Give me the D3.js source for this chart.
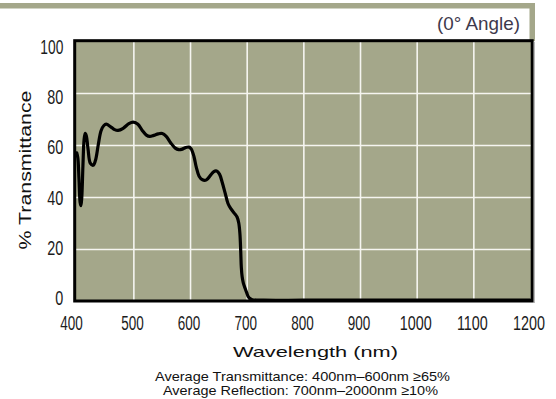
<!DOCTYPE html>
<html>
<head>
<meta charset="utf-8">
<script src="https://cdn.jsdelivr.net/npm/d3@7"></script>
<style>
  html, body { margin: 0; padding: 0; background: #ffffff; }
  svg { display: block; }
</style>
</head>
<body>
<svg id="chart" width="556" height="399"></svg>
<script>
// ---- data ----
const wavelengthNm = [400, 402, 404, 406, 407.5, 409, 411, 413, 415, 417, 420, 424, 429, 433, 438, 443, 448, 452, 460, 467, 473, 482, 492, 500, 508, 516, 523, 529, 536, 544, 551, 558, 566, 574, 580, 585, 592, 598, 602, 607, 611, 616, 622, 629, 636, 642, 647, 652, 657, 662, 667, 672, 678, 683, 686, 688, 689.5, 690.5, 692, 694, 697, 700, 703, 706, 710, 730, 800, 900, 1000, 1100, 1200];
const transmittancePct = [57, 55, 47, 38, 36.7, 40, 52, 62, 64.5, 63.5, 58.5, 53, 52.2, 54, 60, 65.5, 67.5, 68, 67, 65.9, 65.6, 66.4, 68.2, 68.8, 68, 65.5, 63.8, 63.3, 63.7, 64.3, 64.4, 63.3, 60.8, 58.8, 58.2, 58.3, 59, 59.2, 58.5, 55.5, 51.5, 48, 46.6, 46.6, 48.3, 49.8, 50, 48.8, 45.5, 41.5, 37.5, 35.5, 33.8, 32.3, 30, 26, 19, 13, 9.3, 7, 5, 3.2, 1.6, 0.9, 0.5, 0.3, 0.3, 0.3, 0.3, 0.3, 0.3];
const xTickValues = [400, 500, 600, 700, 800, 900, 1000, 1100, 1200];
const yTickValues = [0, 20, 40, 60, 80, 100];
const titleText = "(0° Angle)";
const xAxisTitle = "Wavelength (nm)";
const yAxisTitle = "% Transmittance";
const footnotes = ["Average Transmittance: 400nm–600nm ≥65%", "Average Reflection: 700nm–2000nm ≥10%"];

// ---- drawing ----
const svg = d3.select("#chart");
const olive = "#a4a78a";
const x = d3.scaleLinear().domain([400, 1200]).range([76.7, 530]);
const y = d3.scaleLinear().domain([0, 100]).range([301, 41]);
const yLabelPos = d3.scaleLinear().domain([0, 100]).range([297.5, 46]);

// frame band (top + right strip)
svg.append("rect").attr("x", 0).attr("y", 3).attr("width", 535).attr("height", 5.5).attr("fill", olive);
svg.append("rect").attr("x", 529.5).attr("y", 3).attr("width", 5.5).attr("height", 38).attr("fill", olive);

// title
svg.append("text").attr("x", 520).attr("y", 29.5).attr("text-anchor", "end")
  .attr("font-family", "Liberation Sans, Arial, sans-serif").attr("font-size", 18.5)
  .attr("fill", "#3d394c").attr("textLength", 83).attr("lengthAdjust", "spacingAndGlyphs")
  .text(titleText);

// plot background
const bx0 = 74.7, bx1 = 532.2, by0 = 40.7, by1 = 301;
svg.append("rect").attr("x", bx0).attr("y", by0).attr("width", bx1 - bx0).attr("height", by1 - by0).attr("fill", olive);

// gridlines
const gx = svg.append("g").attr("transform", `translate(0,${by1})`)
  .call(d3.axisBottom(x).tickValues(xTickValues.slice(1, -1)).tickSize(-(by1 - by0)).tickFormat(""));
gx.select(".domain").remove();
gx.selectAll("line").attr("stroke", "#f5f5f0").attr("stroke-width", 1.6);
const gy = svg.append("g").attr("transform", `translate(${bx0},0)`)
  .call(d3.axisLeft(y).tickValues(yTickValues.slice(1, -1)).tickSize(-(bx1 - bx0)).tickFormat(""));
gy.select(".domain").remove();
gy.selectAll("line").attr("stroke", "#f5f5f0").attr("stroke-width", 1.6);

// curve
const line = d3.line().x((d, i) => x(wavelengthNm[i])).y(d => y(d)).curve(d3.curveCatmullRom.alpha(0.5));
svg.append("path").datum(transmittancePct).attr("d", line)
  .attr("fill", "none").attr("stroke", "#000").attr("stroke-width", 3.2)
  .attr("stroke-linejoin", "round").attr("stroke-linecap", "round");

// border
svg.append("rect").attr("x", bx0).attr("y", by0).attr("width", bx1 - bx0).attr("height", by1 - by0)
  .attr("fill", "none").attr("stroke", "#000").attr("stroke-width", 3);
svg.append("line").attr("x1", bx1 + 2).attr("x2", bx1 + 2).attr("y1", by0 + 1).attr("y2", by1 + 2)
  .attr("stroke", "#9a9a9a").attr("stroke-width", 1);

// x tick labels (horizontally condensed, as in the reference)
const xa = svg.append("g").attr("transform", `translate(0,${by1})`)
  .call(d3.axisBottom(x).tickValues(xTickValues).tickSize(0).tickPadding(0).tickFormat(d3.format("d")));
xa.select(".domain").remove();
xa.selectAll("text")
  .attr("font-family", "Liberation Sans, Arial, sans-serif").attr("font-size", 21)
  .attr("fill", "#1c1c1c").attr("dy", null).attr("y", 29)
  .attr("x", d => d === 400 ? -9 : -2.2)
  .attr("transform", d => String(d).length === 4 ? "scale(0.685,1)" : "scale(0.643,1)");

// y tick labels
const ya = svg.append("g").attr("transform", "translate(63.3,0)")
  .call(d3.axisLeft(yLabelPos).tickValues(yTickValues).tickSize(0).tickPadding(0).tickFormat(d3.format("d")));
ya.select(".domain").remove();
ya.selectAll("text")
  .attr("font-family", "Liberation Sans, Arial, sans-serif").attr("font-size", 20.5)
  .attr("fill", "#1c1c1c").attr("x", 0).attr("dy", "0.36em")
  .attr("textLength", d => String(d).length === 3 ? 23 : String(d).length * 8).attr("lengthAdjust", "spacingAndGlyphs");

// axis titles
svg.append("text").attr("x", 315.5).attr("y", 357).attr("text-anchor", "middle")
  .attr("font-family", "Liberation Sans, Arial, sans-serif").attr("font-size", 14.5)
  .attr("fill", "#111").attr("textLength", 165).attr("lengthAdjust", "spacingAndGlyphs")
  .text(xAxisTitle);
svg.append("text").attr("transform", "translate(31,170) rotate(-90)").attr("text-anchor", "middle")
  .attr("font-family", "Liberation Sans, Arial, sans-serif").attr("font-size", 16.5)
  .attr("fill", "#111").attr("textLength", 159).attr("lengthAdjust", "spacingAndGlyphs")
  .text(yAxisTitle);

// footnotes
const fnW = [295, 275], fnX = [302.5, 300.5], fnY = [380.5, 395];
svg.selectAll("text.fn").data(footnotes).enter().append("text").attr("class", "fn")
  .attr("x", (d, i) => fnX[i]).attr("y", (d, i) => fnY[i]).attr("text-anchor", "middle")
  .attr("font-family", "Liberation Sans, Arial, sans-serif").attr("font-size", 13.5)
  .attr("fill", "#111").attr("textLength", (d, i) => fnW[i]).attr("lengthAdjust", "spacingAndGlyphs")
  .text(d => d);
</script>
</body>
</html>
